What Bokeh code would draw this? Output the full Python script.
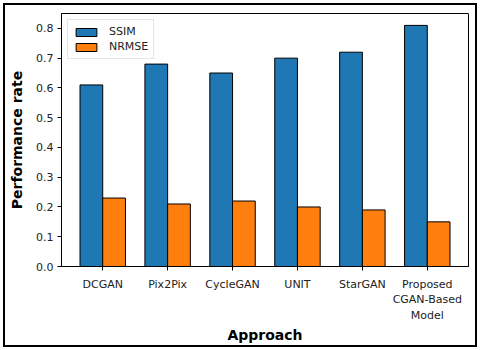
from bokeh.plotting import figure
from bokeh.models import ColumnDataSource, FixedTicker, Range1d, Legend, LegendItem, NumeralTickFormatter
from bokeh.embed import file_html
from bokeh.resources import INLINE

approaches = ["DCGAN", "Pix2Pix", "CycleGAN", "UNIT", "StarGAN", "Proposed\nCGAN-Based\nModel"]
ssim = [0.61, 0.68, 0.65, 0.70, 0.72, 0.81]
nrmse = [0.23, 0.21, 0.22, 0.20, 0.19, 0.15]

idx = list(range(len(approaches)))
w = 0.35
src = ColumnDataSource(dict(
    x1=[i - w / 2 for i in idx], x2=[i + w / 2 for i in idx], ssim=ssim, nrmse=nrmse))

p = figure(width=470, height=340, output_backend="svg", toolbar_location=None,
           x_range=Range1d(-0.635, 5.635), y_range=Range1d(0, 0.85),
           min_border_left=56, min_border_right=7, min_border_top=8, min_border_bottom=78)
p.styles = {"margin-left": "5px", "margin-top": "5px",
            "outline": "2px solid black", "outline-offset": "0px"}
p.border_fill_color = "white"
p.outline_line_color = "black"
p.outline_line_width = 1
p.xgrid.visible = False
p.ygrid.visible = False

r1 = p.vbar(x="x1", top="ssim", width=w, source=src, fill_color="#1f77b4", line_color="black", line_width=1)
r2 = p.vbar(x="x2", top="nrmse", width=w, source=src, fill_color="#ff7f0e", line_color="black", line_width=1)

p.xaxis.ticker = FixedTicker(ticks=idx)
p.xaxis.major_label_overrides = {i: a for i, a in enumerate(approaches)}
p.yaxis.ticker = FixedTicker(ticks=[0, 0.1, 0.2, 0.3, 0.4, 0.5, 0.6, 0.7, 0.8])
p.yaxis.formatter = NumeralTickFormatter(format="0.0")

for ax in (p.xaxis[0], p.yaxis[0]):
    ax.major_label_text_font = "DejaVu Sans"
    ax.major_label_text_font_size = "11px"
    ax.major_label_text_color = "#222222"
    ax.axis_line_color = "black"
    ax.major_tick_line_color = "black"
    ax.major_tick_out = 4
    ax.major_tick_in = 0
    ax.minor_tick_out = 0
    ax.minor_tick_in = 0
    ax.axis_label_text_font = "DejaVu Sans"
    ax.axis_label_text_font_style = "bold"
    ax.axis_label_text_font_size = "14px"
    ax.axis_label_text_color = "black"

p.xaxis.axis_label = "Approach"
p.yaxis.axis_label = "Performance rate"
p.xaxis.major_label_standoff = 7
p.yaxis.major_label_standoff = 4
p.xaxis.axis_label_standoff = 2
p.yaxis.axis_label_standoff = 8

legend = Legend(items=[LegendItem(label="SSIM", renderers=[r1]), LegendItem(label="NRMSE", renderers=[r2])],
                location="top_left")
legend.label_text_font = "DejaVu Sans"
legend.label_text_font_size = "11px"
legend.label_text_color = "#222222"
legend.border_line_color = "#cccccc"
legend.border_line_width = 1
legend.background_fill_alpha = 0.8
legend.margin = 6
legend.padding = 5
legend.spacing = 2
legend.glyph_width = 26
legend.glyph_height = 10
legend.label_standoff = 10
p.add_layout(legend)

open("out.html", "w").write(file_html(p, INLINE))
